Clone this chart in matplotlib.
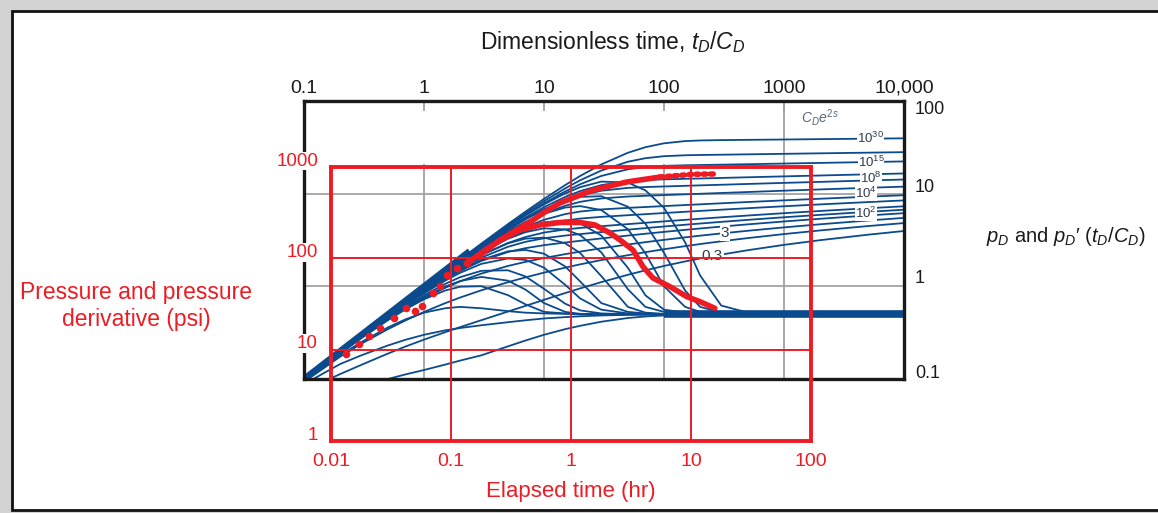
import matplotlib.pyplot as plt
import numpy as np
from matplotlib.patches import Rectangle
from matplotlib.ticker import NullLocator
from matplotlib.transforms import ScaledTranslation

plt.rcParams['font.family'] = ['Liberation Sans', 'DejaVu Sans']
plt.rcParams['mathtext.fontset'] = 'custom'
plt.rcParams['mathtext.rm'] = 'Liberation Sans'
plt.rcParams['mathtext.it'] = 'Liberation Sans:italic'
plt.rcParams['mathtext.bf'] = 'Liberation Sans:bold'

BLUE = '#0b4a8d'
RED = '#ed1c24'
GRID = '#9b9b9b'
INK = '#1a1a1a'
W, H = 1158, 513

# type curves: dimensionless time tD/CD shared by every curve
td_cd = [0.1, 0.2, 0.3, 0.5, 0.7, 1, 1.5, 2, 3, 5, 7, 10, 15, 20, 30, 50, 70,
         100, 150, 200, 300, 500, 1000, 2000, 5000, 10000]

# pressure (p_) and derivative (d_) for each CDe2s value
p_1e30 = [0.1, 0.2, 0.3, 0.497, 0.693, 0.987, 1.471, 1.948, 2.884, 4.686, 6.388, 8.782, 12.37,
          15.52, 20.67, 27.64, 31.73, 34.95, 36.93, 37.52, 37.86, 38.09, 38.42, 38.76, 39.21, 39.55]
d_1e30 = [0.1, 0.2, 0.298, 0.493, 0.687, 0.973, 1.44, 1.895, 2.77, 4.377, 5.815, 7.668, 10.07,
          11.75, 13.5, 13.19, 10.85, 7.04, 2.98, 1.31, 0.62, 0.52, 0.505, 0.5, 0.5, 0.5]
p_1e20 = [0.1, 0.2, 0.298, 0.495, 0.69, 0.98, 1.458, 1.925, 2.835, 4.55, 6.137, 8.3, 11.39,
          13.94, 17.76, 22.12, 24.14, 25.38, 25.96, 26.15, 26.33, 26.57, 26.91, 27.25, 27.7, 28.05]
d_1e20 = [0.1, 0.198, 0.296, 0.49, 0.68, 0.96, 1.415, 1.849, 2.674, 4.125, 5.345, 6.8, 8.4,
          9.23, 9.39, 7.23, 4.74, 2.3, 0.9, 0.6, 0.52, 0.505, 0.5, 0.5, 0.5, 0.5]
p_1e15 = [0.1, 0.199, 0.298, 0.494, 0.687, 0.974, 1.445, 1.905, 2.787, 4.428, 5.912, 7.876, 10.56,
          12.64, 15.52, 18.34, 19.4, 19.95, 20.24, 20.37, 20.56, 20.8, 21.14, 21.48, 21.93, 22.28]
d_1e15 = [0.1, 0.198, 0.295, 0.487, 0.674, 0.948, 1.389, 1.81, 2.585, 3.9, 4.94, 6.07, 7.08,
          7.34, 6.66, 4.13, 2.27, 1.0, 0.6, 0.53, 0.51, 0.5, 0.5, 0.5, 0.5, 0.5]
p_1e10 = [0.1, 0.198, 0.297, 0.491, 0.683, 0.967, 1.423, 1.866, 2.704, 4.212, 5.52, 7.161, 9.22,
          10.66, 12.37, 13.67, 14.05, 14.27, 14.46, 14.59, 14.78, 15.03, 15.37, 15.71, 16.17, 16.52]
d_1e10 = [0.099, 0.197, 0.293, 0.482, 0.665, 0.93, 1.349, 1.737, 2.427, 3.51, 4.26, 4.9, 5.13,
          4.78, 3.54, 1.585, 0.8, 0.56, 0.52, 0.51, 0.5, 0.5, 0.5, 0.5, 0.5, 0.5]
p_1e8 = [0.1, 0.198, 0.296, 0.488, 0.679, 0.958, 1.409, 1.841, 2.649, 4.073, 5.271, 6.72, 8.43,
         9.55, 10.75, 11.55, 11.79, 11.96, 12.15, 12.29, 12.48, 12.73, 13.07, 13.41, 13.87, 14.22]
d_1e8 = [0.099, 0.196, 0.292, 0.477, 0.658, 0.919, 1.321, 1.688, 2.324, 3.26, 3.84, 4.23, 4.11,
         3.57, 2.33, 0.93, 0.6, 0.53, 0.51, 0.505, 0.5, 0.5, 0.5, 0.5, 0.5, 0.5]
p_1e6 = [0.099, 0.198, 0.295, 0.485, 0.675, 0.949, 1.387, 1.802, 2.567, 3.869, 4.915, 6.11, 7.403,
         8.157, 8.878, 9.317, 9.488, 9.65, 9.84, 9.977, 10.17, 10.42, 10.77, 11.11, 11.57, 11.91]
d_1e6 = [0.099, 0.195, 0.289, 0.47, 0.647, 0.9, 1.279, 1.616, 2.175, 2.91, 3.27, 3.36, 2.92,
         2.29, 1.29, 0.6, 0.52, 0.505, 0.5, 0.5, 0.5, 0.5, 0.5, 0.5, 0.5, 0.5]
p_1e4 = [0.099, 0.197, 0.294, 0.482, 0.667, 0.932, 1.349, 1.738, 2.434, 3.547, 4.37, 5.222, 6.018,
         6.416, 6.761, 7.024, 7.177, 7.344, 7.537, 7.676, 7.874, 8.126, 8.469, 8.815, 9.272, 9.62]
d_1e4 = [0.098, 0.194, 0.286, 0.465, 0.633, 0.867, 1.208, 1.496, 1.934, 2.385, 2.47, 2.25, 1.64,
         1.13, 0.66, 0.53, 0.51, 0.5, 0.5, 0.5, 0.5, 0.5, 0.5, 0.5, 0.5, 0.5]
p_1e3 = [0.099, 0.197, 0.293, 0.479, 0.66, 0.919, 1.32, 1.686, 2.326, 3.297, 3.964, 4.6, 5.135,
         5.385, 5.619, 5.855, 6.011, 6.18, 6.376, 6.516, 6.715, 6.967, 7.31, 7.66, 8.11, 8.46]
d_1e3 = [0.098, 0.192, 0.285, 0.459, 0.62, 0.84, 1.151, 1.4, 1.746, 2.0, 1.93, 1.59, 1.04,
         0.74, 0.56, 0.51, 0.505, 0.5, 0.5, 0.5, 0.5, 0.5, 0.5, 0.5, 0.5, 0.5]
p_1e2 = [0.099, 0.196, 0.291, 0.474, 0.649, 0.897, 1.274, 1.607, 2.163, 2.934, 3.405, 3.804, 4.112,
         4.267, 4.456, 4.691, 4.85, 5.022, 5.219, 5.36, 5.56, 5.81, 6.16, 6.505, 6.96, 7.31]
d_1e2 = [0.098, 0.192, 0.281, 0.448, 0.599, 0.798, 1.063, 1.255, 1.47, 1.49, 1.28, 0.94, 0.65,
         0.55, 0.51, 0.5, 0.5, 0.5, 0.5, 0.5, 0.5, 0.5, 0.5, 0.5, 0.5, 0.5]
p_30 = [0.099, 0.195, 0.289, 0.47, 0.642, 0.882, 1.238, 1.547, 2.039, 2.67, 3.021, 3.302, 3.529,
        3.664, 3.848, 4.087, 4.249, 4.422, 4.62, 4.762, 4.963, 5.216, 5.562, 5.908, 6.365, 6.71]
d_30 = [0.097, 0.19, 0.279, 0.44, 0.584, 0.767, 0.994, 1.14, 1.263, 1.152, 0.923, 0.66, 0.53,
        0.505, 0.5, 0.5, 0.5, 0.5, 0.5, 0.5, 0.5, 0.5, 0.5, 0.5, 0.5, 0.5]
p_10 = [0.099, 0.195, 0.288, 0.467, 0.633, 0.863, 1.194, 1.467, 1.877, 2.347, 2.58, 2.781, 2.97,
        3.1, 3.288, 3.531, 3.695, 3.869, 4.069, 4.211, 4.412, 4.666, 5.012, 5.358, 5.816, 6.16]
d_10 = [0.097, 0.19, 0.276, 0.432, 0.565, 0.725, 0.901, 0.99, 1.003, 0.804, 0.64, 0.53, 0.51,
        0.5, 0.5, 0.5, 0.5, 0.5, 0.5, 0.5, 0.5, 0.5, 0.5, 0.5, 0.5, 0.5]
p_3 = [0.097, 0.191, 0.278, 0.434, 0.569, 0.74, 0.963, 1.133, 1.372, 1.658, 1.836, 2.02, 2.225,
       2.37, 2.573, 2.828, 2.996, 3.174, 3.377, 3.521, 3.724, 3.979, 4.326, 4.673, 5.131, 5.478]
d_3 = [0.095, 0.18, 0.25, 0.36, 0.44, 0.52, 0.58, 0.6, 0.58, 0.54, 0.52, 0.51, 0.505,
       0.5, 0.5, 0.5, 0.5, 0.5, 0.5, 0.5, 0.5, 0.5, 0.5, 0.5, 0.5, 0.5]
p_1 = [0.093, 0.174, 0.24, 0.345, 0.428, 0.529, 0.658, 0.757, 0.906, 1.108, 1.249, 1.406, 1.591,
       1.726, 1.92, 2.17, 2.336, 2.513, 2.715, 2.859, 3.062, 3.317, 3.664, 4.011, 4.469, 4.816]
d_1 = [0.088, 0.145, 0.18, 0.23, 0.265, 0.3, 0.335, 0.355, 0.38, 0.41, 0.43, 0.45, 0.465,
       0.475, 0.485, 0.492, 0.495, 0.497, 0.499, 0.5, 0.5, 0.5, 0.5, 0.5, 0.5, 0.5]
p_03 = [0.075, 0.113, 0.142, 0.188, 0.224, 0.266, 0.32, 0.363, 0.431, 0.534, 0.615, 0.715, 0.846,
        0.95, 1.11, 1.332, 1.488, 1.659, 1.857, 1.999, 2.2, 2.455, 2.802, 3.149, 3.607, 3.954]
d_03 = [0.045, 0.065, 0.08, 0.1, 0.112, 0.125, 0.143, 0.158, 0.18, 0.225, 0.26, 0.3, 0.345,
        0.375, 0.415, 0.455, 0.473, 0.485, 0.492, 0.495, 0.498, 0.5, 0.5, 0.5, 0.5, 0.5]

# wellbore storage unit slope and radial flow derivative stabilisation
storage_td = [0.1, 2.4]
storage_pd = [0.1, 2.4]
radial_td = [100, 10000]
radial_pd = [0.5, 0.5]

# field data: elapsed time (hr), pressure change and derivative (psi)
hr_p = [0.0133, 0.0172, 0.0209, 0.0256, 0.0335, 0.0422, 0.0501, 0.0577, 0.0704, 0.081,
        0.0921, 0.1115, 0.1351, 0.211, 0.31, 0.455, 0.607, 0.81, 1.53, 2.93, 5.52, 10.4, 16.5]
psi_p = [8.97, 11.5, 14.2, 17.4, 22.2, 28.8, 26.7, 30.3, 42.0, 49.8,
         65.7, 77.8, 88.3, 133, 185, 250, 322, 404, 560, 686, 777, 832, 839]
hr_d = [0.1745, 0.256, 0.376, 0.552, 0.81, 1.189, 1.585, 2.113, 2.56, 3.29, 3.98, 4.82,
        6.68, 9.26, 11.9, 15.8]
psi_d = [108.8, 158.8, 204, 232, 247, 247, 232, 189.5, 159, 123, 81, 60.9,
         48.9, 38, 33.5, 28.4]

td_ticks = [0.1, 1, 10, 100, 1000, 10000]
td_tick_labels = ['0.1', '1', '10', '100', '1000', '10,000']
pd_ticks = [0.1, 1, 10, 100]
pd_tick_labels = ['0.1', '1', '10', '100']
hr_ticks = [0.01, 0.1, 1, 10, 100]
hr_tick_labels = ['0.01', '0.1', '1', '10', '100']
psi_ticks = [1, 10, 100, 1000]
psi_tick_labels = ['1', '10', '100', '1000']

curves = [p_1e30, d_1e30, p_1e20, d_1e20, p_1e15, d_1e15, p_1e10, d_1e10, p_1e8, d_1e8,
          p_1e6, d_1e6, p_1e4, d_1e4, p_1e3, d_1e3, p_1e2, d_1e2, p_30, d_30, p_10, d_10,
          p_3, d_3, p_1, d_1, p_03, d_03]
# label text, curve, tD/CD where it sits, nudge in px, font size, box pad
curve_labels = [(r'$10^{30}$', p_1e30, 5300, 0, 9.5, 0.0),
                (r'$10^{15}$', p_1e15, 5300, 0, 9.5, 0.0),
                (r'$10^{8}$', p_1e8, 5300, 2, 9.5, 0.0),
                (r'$10^{4}$', p_1e4, 4800, 3, 9.5, 0.0),
                (r'$10^{2}$', p_1e2, 4800, -5, 9.5, 0.0),
                ('3', p_3, 322, 0, 11, 0.8),
                ('0.3', p_03, 251, 0, 11, 0.8)]


def on_curve(vals, at):
    return 10 ** np.interp(np.log10(at), np.log10(td_cd), np.log10(vals))


fig = plt.figure(figsize=(W / 100, H / 100), dpi=100, facecolor='#d2d2d2')
fig.patches.append(Rectangle((12 / W, 1 - 510 / H), 1.0, (510 - 11) / H, transform=fig.transFigure,
                             figure=fig, facecolor='white', edgecolor='#111111', lw=2, zorder=-1))
off = fig.dpi_scale_trans

# dimensionless type-curve axes
ax = fig.add_axes([304 / W, 1 - 379 / H, 600 / W, 278 / H])
ax.set_xscale('log')
ax.set_yscale('log')
ax.set_xlim(0.1, 1e4)
ax.set_ylim(0.1, 100)
ax.set_zorder(1)
for sp in ax.spines.values():
    sp.set_linewidth(2.4)
    sp.set_color(INK)
ax.xaxis.tick_top()
ax.set_xticks(td_ticks)
ax.set_xticklabels(td_tick_labels)
ax.xaxis.set_minor_locator(NullLocator())
ax.yaxis.set_minor_locator(NullLocator())
ax.tick_params(axis='x', direction='in', length=7, width=1.2, color=GRID, pad=3,
               labelsize=14, labelcolor=INK)
ax.set_yticks(pd_ticks)
ax.set_yticklabels([])
ax.tick_params(axis='y', length=0)

ax.hlines([1, 10], 0.1, 1e4, colors=GRID, lw=1.2, zorder=1)
ax.vlines([1, 10, 100], 0.1, 21, colors=GRID, lw=1.2, zorder=1)
ax.vlines([1000], 0.1, 100, colors=GRID, lw=1.2, zorder=1)

for vals in curves:
    ax.plot(td_cd, vals, color=BLUE, lw=1.3, zorder=2)
ax.plot(storage_td, storage_pd, color=BLUE, lw=4.5, zorder=2, solid_capstyle='butt')
ax.plot(radial_td, radial_pd, color=BLUE, lw=5.5, zorder=2, solid_capstyle='butt')

for text, vals, at, dy, size, pad in curve_labels:
    ax.text(at, on_curve(vals, at), text, ha='center', va='center', fontsize=size,
            color='#2e3b4e', zorder=4,
            transform=ax.transData + ScaledTranslation(0, dy / 100, off),
            bbox=dict(facecolor='white', edgecolor='none', pad=pad))
fig.text(820 / W, 1 - 117 / H, r'$C_De^{2s}$', ha='center', va='center', fontsize=10,
         color='#56667a')

for v, s, dy in zip(pd_ticks, pd_tick_labels, [0.06, 0.08, 0.06, -0.09]):
    ax.text(1e4, v, s, ha='left', va='center', fontsize=13, color=INK,
            transform=ax.transData + ScaledTranslation(0.11, dy, off), clip_on=False)

# field data overlay on its own axes
rx = fig.add_axes([331 / W, 1 - 441 / H, 480 / W, 274 / H], facecolor='none')
rx.set_zorder(3)
rx.set_xscale('log')
rx.set_yscale('log')
rx.set_xlim(0.01, 100)
rx.set_ylim(1, 1000)
for sp in rx.spines.values():
    sp.set_color(RED)
    sp.set_linewidth(2.8)
rx.set_xticks(hr_ticks)
rx.set_yticks(psi_ticks)
rx.xaxis.set_minor_locator(NullLocator())
rx.yaxis.set_minor_locator(NullLocator())
rx.set_xticklabels([])
rx.set_yticklabels([])
rx.tick_params(length=0)
rx.grid(True, which='major', color=RED, lw=1.4)

for v, s in zip(psi_ticks, psi_tick_labels):
    rx.text(0.01, v, s, ha='right', va='center', fontsize=13.5, color=RED, clip_on=False,
            transform=rx.transData + ScaledTranslation(-0.13, 0.06, off),
            bbox=dict(facecolor='white', edgecolor='none', pad=0.5))
for v, s in zip(hr_ticks, hr_tick_labels):
    rx.text(v, 1, s, ha='center', va='center', fontsize=14, color=RED, clip_on=False,
            transform=rx.transData + ScaledTranslation(0, -0.21, off))

rx.plot(hr_p[:13], psi_p[:13], 'o', ms=5.5, color=RED, mec='none', zorder=5)
rx.plot(hr_p[12:-2], psi_p[12:-2], color=RED, lw=4, solid_capstyle='round', zorder=5)
rx.plot(hr_p[-3:], psi_p[-3:], color=RED, lw=4, ls=(0, (0.5, 0.8)), dash_capstyle='round',
        zorder=5)
rx.plot(hr_d, psi_d, color=RED, lw=4, solid_capstyle='round', solid_joinstyle='round',
        zorder=5)

fig.text(613 / W, 1 - 42 / H, r'Dimensionless time, $t_D/C_D$', ha='center', va='center',
         fontsize=16.5, color=INK)
fig.text(1066 / W, 1 - 236 / H, '$p_D$ and $p_D$\u2032 $(t_D/C_D)$', ha='center',
         va='center', fontsize=14.5, color=INK)
fig.text(136 / W, 1 - 306 / H, 'Pressure and pressure\nderivative (psi)', ha='center',
         va='center', fontsize=16.5, color=RED, linespacing=1.2)
fig.text(571 / W, 1 - 492 / H, 'Elapsed time (hr)', ha='center', va='center', fontsize=16,
         color=RED)

fig.savefig('out.png', dpi=100, facecolor=fig.get_facecolor())
